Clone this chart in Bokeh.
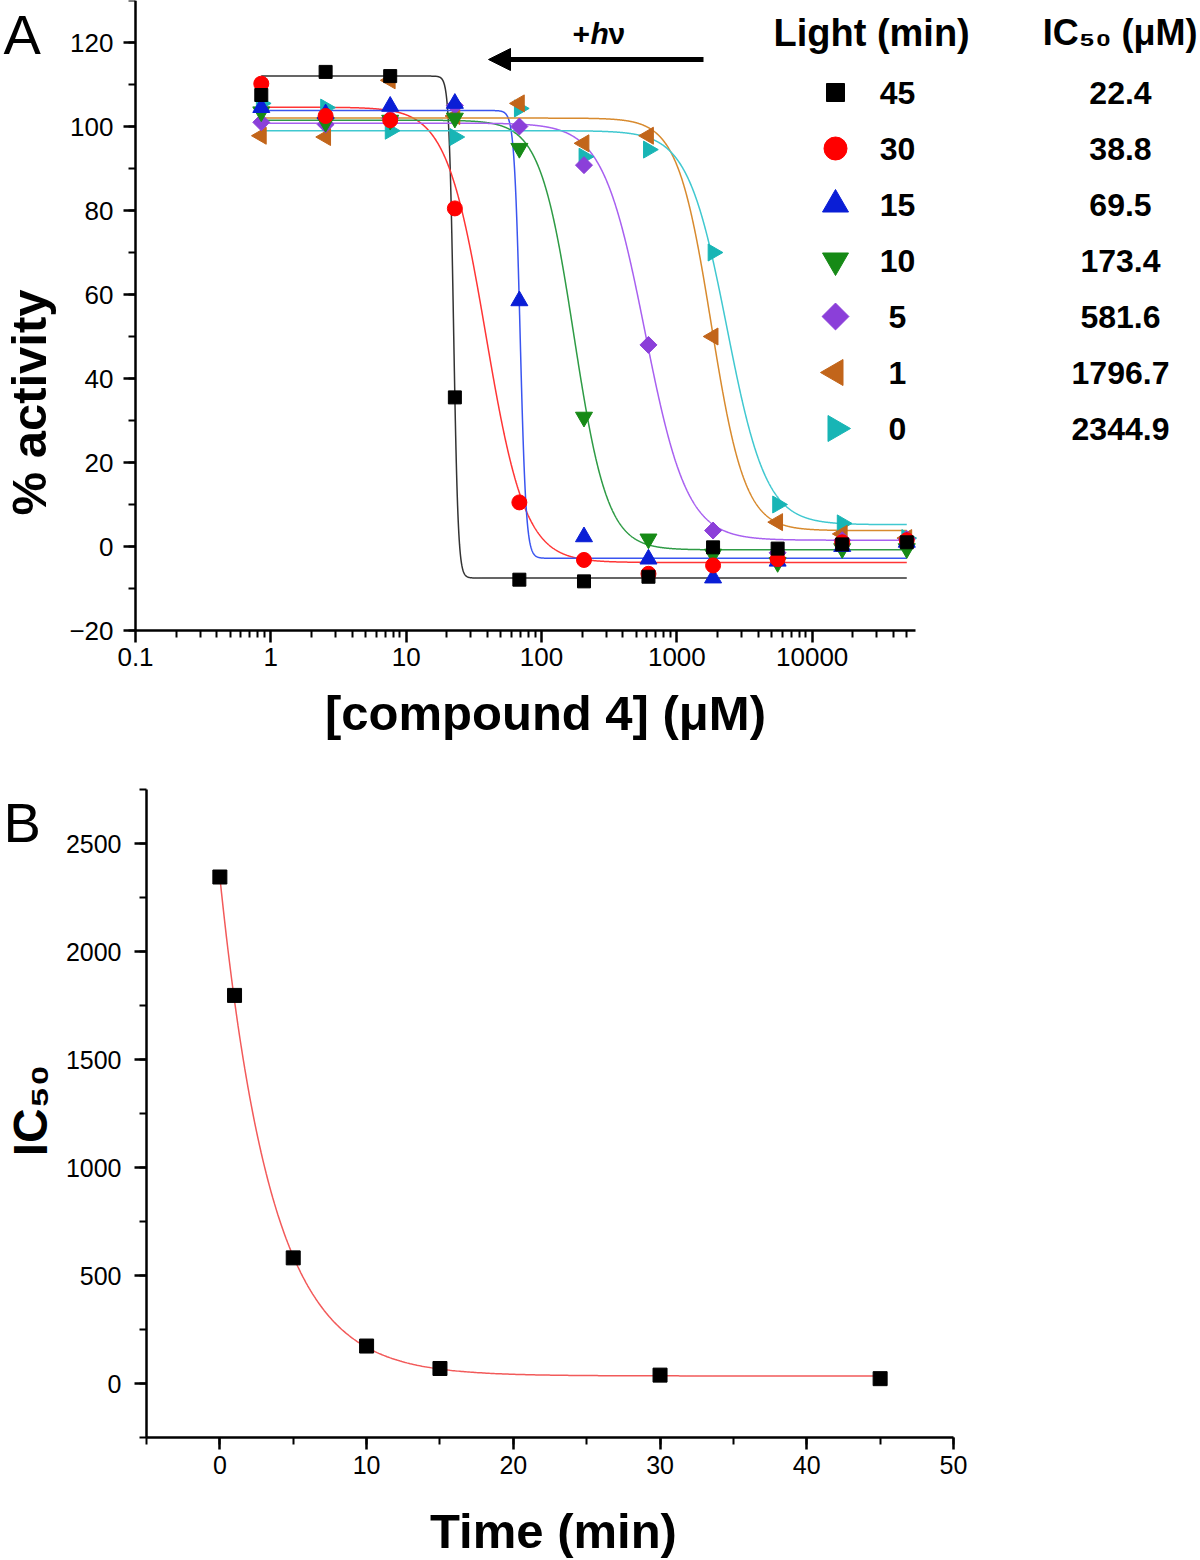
import math
import numpy as np
from bokeh.plotting import figure
from bokeh.models import (Range1d, FixedTicker, SingleIntervalTicker, CustomJSTickFormatter,
                          Label, Arrow, NormalHead)
from bokeh.layouts import column
from bokeh.embed import file_html
from bokeh.resources import INLINE

# ---------------- data ----------------
conc_uM = [0.85, 2.54, 7.62, 22.9, 68.6, 206, 617, 1852, 5556, 16667, 50000]
light_min = [45, 30, 15, 10, 5, 1, 0]
ic50_uM = [22.4, 38.8, 69.5, 173.4, 581.6, 1796.7, 2344.9]

act_45 = [107.5, 113.0, 112.0, 35.5, -7.9, -8.3, -7.2, -0.2, -0.5, 0.5, 1.0]
act_30 = [110.2, 102.5, 101.5, 80.5, 10.5, -3.2, -6.5, -4.5, -3.0, 1.0, 1.5]
act_15 = [104.5, 103.0, 104.8, 105.5, 58.5, 2.3, -3.0, -7.5, -3.5, 0.0, 1.0]
act_10 = [103.5, 101.0, 101.5, 102.0, 94.8, 30.8, 1.8, -1.8, -3.8, -0.5, -0.5]
act_5 = [101.0, 100.5, 102.0, 105.0, 100.0, 90.8, 48.0, 3.8, -1.5, 1.5, 1.8]
act_1 = [97.8, 97.5, 111.0, 102.5, 105.5, 96.0, 97.8, 50.0, 5.8, 3.0, 2.0]
act_0 = [105.5, 104.5, 99.0, 97.5, 104.3, 92.8, 94.5, 70.0, 10.0, 5.5, 2.0]
activity = [act_45, act_30, act_15, act_10, act_5, act_1, act_0]

# dose-response fit parameters (four-parameter logistic), per light time
fit_top = [112.0, 104.6, 103.8, 101.5, 100.8, 102.0, 99.0]
fit_bottom = [-7.5, -3.8, -2.8, -0.8, 1.5, 3.8, 5.2]
fit_hill = [26.0, 3.0, 20.0, 3.5, 2.8, 3.5, 3.0]

# panel B exponential decay fit
decay_plateau = 35.0
decay_amp = 2310.0
decay_tau = 3.5

x_tick_values = [0.1, 1, 10, 100, 1000, 10000]

# ---------------- styles ----------------
FONT = "Liberation Sans"
marker_types = ["square", "circle", "triangle", "inverted_triangle", "square", "triangle", "triangle"]
marker_angles = [0.0, 0.0, 0.0, 0.0, math.pi / 4, math.pi / 2, -math.pi / 2]
marker_sizes = [13, 15, 17, 17, 12, 17, 17]
legend_sizes = [18, 23, 26, 26, 19, 26, 26]
marker_colors = ["#000000", "#FF0000", "#0A1ED6", "#168A16", "#8B3FD9", "#C2651A", "#18B5B5"]
line_colors = ["#333333", "#FF3535", "#3A55F0", "#2E9B45", "#A860F0", "#D88A2E", "#40C8D0"]

PAGE_W, PAGE_H = 1200, 1560


def style_axes(p, tick_size):
    for ax in p.axis:
        ax.axis_line_width = 2.5
        ax.axis_line_color = "black"
        ax.major_tick_line_width = 2.5
        ax.major_tick_out = 12
        ax.major_tick_in = 0
        ax.minor_tick_line_width = 2
        ax.minor_tick_out = 7
        ax.minor_tick_in = 0
        ax.major_label_text_font = FONT
        ax.major_label_text_font_size = tick_size
        ax.major_label_text_color = "black"
    p.xgrid.visible = False
    p.ygrid.visible = False
    p.outline_line_color = None
    p.background_fill_color = "white"
    p.border_fill_color = "white"


def text(p, x, y, s, size, style="bold", align="center", angle=0.0, baseline="middle"):
    p.add_layout(Label(x=x, y=y, text=s, text_font=FONT, text_font_style=style,
                       text_font_size=size, text_color="black", text_align=align,
                       text_baseline=baseline, angle=angle))


# ---------------- panel A ----------------
A_FIG_H = 745
A_X01 = 135                      # page px where x = 0.1
A_XEND = 58000                   # end of the drawn x axis
A_XEND_PX = 915
A_PPD = (A_XEND_PX - A_X01) / (math.log10(A_XEND) - math.log10(0.1))   # px per decade
XLO = 10 ** (math.log10(0.1) - A_X01 / A_PPD)
XHI = 10 ** (math.log10(0.1) + (PAGE_W - A_X01) / A_PPD)
A_YTOP = 130                     # value at page y = 0
A_PPU = 4.2                      # px per % activity
A_YBOT = A_YTOP - A_FIG_H / A_PPU


def a_x(px):
    return 10 ** (math.log10(XLO) + px / A_PPD)


def a_y(py):
    return A_YTOP - py / A_PPU


pA = figure(frame_width=PAGE_W, frame_height=A_FIG_H,
            min_border_left=0, min_border_right=0, min_border_top=0, min_border_bottom=0,
            x_axis_type="log", x_range=Range1d(XLO, XHI), y_range=Range1d(A_YBOT, A_YTOP),
            output_backend="svg", toolbar_location=None)
style_axes(pA, "26px")
minor_x = [k * 10 ** e for e in range(-1, 5) for k in range(2, 10) if k * 10 ** e <= A_XEND]
pA.xaxis.ticker = FixedTicker(ticks=x_tick_values, minor_ticks=minor_x)
pA.xaxis.formatter = CustomJSTickFormatter(code="return String(parseFloat(tick.toPrecision(6)));")
pA.xaxis.bounds = (0.1, A_XEND)
pA.xaxis.fixed_location = -20
pA.yaxis.ticker = SingleIntervalTicker(interval=20, num_minor_ticks=2)
pA.yaxis.bounds = (-20, A_YTOP)
pA.yaxis.fixed_location = 0.1
pA.xaxis.major_label_standoff = 5
pA.yaxis.major_label_standoff = 10

xs = np.logspace(math.log10(conc_uM[0]), math.log10(conc_uM[-1]), 2000)
for i in range(len(light_min)):
    ys = fit_bottom[i] + (fit_top[i] - fit_bottom[i]) / (1 + (xs / ic50_uM[i]) ** fit_hill[i])
    pA.line(xs, ys, line_color=line_colors[i], line_width=1.5)
for i in reversed(range(len(light_min))):
    pA.scatter(conc_uM, activity[i], marker=marker_types[i], angle=marker_angles[i],
               size=marker_sizes[i], fill_color=marker_colors[i], line_color=marker_colors[i])

# axis titles
text(pA, a_x(545), a_y(712), "[compound 4] (\u03bcM)", "49px")
text(pA, a_x(28), a_y(402), "% activity", "49px", angle=math.pi / 2)

# legend table: Light (min) | IC50 (uM)
text(pA, a_x(773), a_y(32), "Light (min)", "38px", align="left")
text(pA, a_x(1197), a_y(32), "IC\u2085\u2080 (\u03bcM)", "36px", align="right")
for i in range(len(light_min)):
    row_y = a_y(92 + 56 * i)
    pA.scatter([a_x(835)], [row_y], marker=marker_types[i], angle=marker_angles[i],
               size=legend_sizes[i], fill_color=marker_colors[i], line_color=marker_colors[i])
    text(pA, a_x(897), row_y, str(light_min[i]), "32px")
    text(pA, a_x(1120), row_y, f"{ic50_uM[i]:.1f}", "32px")

# panel letter
text(pA, a_x(3), a_y(2), "A", "56px", style="normal", align="left", baseline="top")

# light arrow with +hv
pA.add_layout(Arrow(x_start=a_x(703), y_start=a_y(59), x_end=a_x(488), y_end=a_y(59),
                    line_width=5, line_color="black",
                    end=NormalHead(size=22, fill_color="black", line_color="black", line_width=1)))
for s, px, style in [("+", 572, "bold"), ("h", 590, "bold italic"), ("\u03bd", 608, "bold")]:
    text(pA, a_x(px), a_y(33), s, "30px", style=style, align="left")

# ---------------- panel B ----------------
B_TOP = A_FIG_H                  # page y where panel B's figure begins
B_FIG_H = PAGE_H - B_TOP
B_X0PX = 146                     # page px where time = -5
B_PPU_X = (953 - 146) / 55.0
BXLO = -5 - B_X0PX / B_PPU_X
BXHI = -5 + (PAGE_W - B_X0PX) / B_PPU_X
B_PPU_Y = (1437 - 789) / 3000.0  # px per IC50 unit
B_YTOP = 2750 + (789 - B_TOP) / B_PPU_Y
B_YBOT = B_YTOP - B_FIG_H / B_PPU_Y


def b_x(px):
    return BXLO + px / B_PPU_X


def b_y(py):
    return B_YTOP - (py - B_TOP) / B_PPU_Y


pB = figure(frame_width=PAGE_W, frame_height=B_FIG_H,
            min_border_left=0, min_border_right=0, min_border_top=0, min_border_bottom=0,
            x_range=Range1d(BXLO, BXHI), y_range=Range1d(B_YBOT, B_YTOP),
            output_backend="svg", toolbar_location=None)
style_axes(pB, "25px")
pB.xaxis.ticker = SingleIntervalTicker(interval=10, num_minor_ticks=2)
pB.yaxis.ticker = SingleIntervalTicker(interval=500, num_minor_ticks=2)
pB.xaxis.bounds = (-5, 50)
pB.xaxis.fixed_location = -250
pB.yaxis.bounds = (-250, 2750)
pB.yaxis.fixed_location = -5
pB.xaxis.major_label_standoff = 6
pB.yaxis.major_label_standoff = 13

tt = np.linspace(0, max(light_min), 400)
pB.line(tt, decay_plateau + decay_amp * np.exp(-tt / decay_tau), line_color="#F25A5A", line_width=1.5)
pB.scatter(light_min, ic50_uM, marker="square", size=14, fill_color="black", line_color="black")

text(pB, b_x(553), b_y(1530), "Time (min)", "49px")
text(pB, b_x(30), b_y(1110), "IC\u2085\u2080", "48px", angle=math.pi / 2)
text(pB, b_x(3), b_y(790), "B", "56px", style="normal", align="left", baseline="top")

layout = column(pA, pB)
open("out.html", "w").write(file_html(layout, INLINE))
